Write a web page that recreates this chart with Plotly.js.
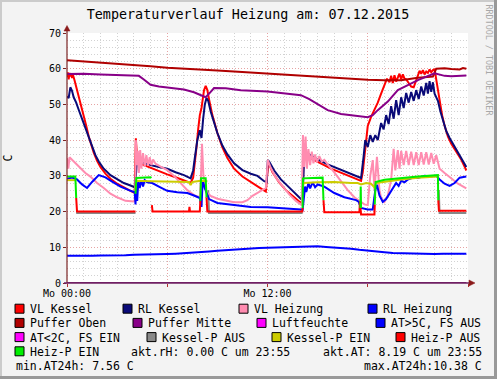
<!DOCTYPE html>
<html><head><meta charset="utf-8">
<script src="https://cdn.plot.ly/plotly-3.0.1.min.js"></script>
<style>html,body{margin:0;padding:0;background:#f3f3f3;}#chart{width:497px;height:379px;}</style>
</head><body><div id="chart"></div>
<script>
// ---------------- data (time in hours since Mo 00:00, value in C) ----------------
const chartTitle = 'Temperaturverlauf Heizung am: 07.12.2015';
const yAxisLabel = 'C';
const xTickVals = [0, 6, 12, 18, 24];
const xTickText = ['Mo 00:00', '', 'Mo 12:00', '', ''];
const yTickVals = [0, 10, 20, 30, 40, 50, 60, 70];

const seriesNames = ['VL Kessel','RL Kessel','VL Heizung','RL Heizung','Puffer Oben','Puffer Mitte','Luftfeuchte','AT>5C, FS AUS','AT<2C, FS EIN','Kessel-P AUS','Kessel-P EIN','Heiz-P AUS','Heiz-P EIN'];
const seriesColors = ['#ff0000','#0a0a78','#ff8cb0','#0000ff','#b00000','#880088','#ff00ff','#0000ff','#ff00ff','#888888','#cccc00','#ff0000','#00ee00'];
const statText = ['akt.rH: 0.00 C um 23:55','akt.AT: 8.19 C um 23:55','min.AT24h: 7.56 C','max.AT24h:10.38 C'];

const vlKessel = [[0,57.6],[0.05,59.0],[0.1,57.0],[0.15,58.8],[0.2,57.8],[0.25,58.6],[0.3,57.4],[0.35,58.4],[0.45,56.8],[0.55,55.0],[0.7,52.5],[0.85,50.0],[1.0,47.0],[1.15,44.0],[1.3,41.0],[1.45,38.5],[1.6,36.5],[1.8,34.2],[2.0,32.5],[2.3,30.6],[2.6,29.2],[3.0,27.8],[3.4,26.7],[3.8,25.8],[4.05,25.2],[4.12,40.5],[4.18,36.0],[4.3,34.0],[4.5,33.2],[4.8,32.6],[5.2,31.8],[5.6,31.0],[6.0,30.4],[6.5,29.6],[7.0,28.8],[7.4,28.0],[7.55,29.5],[7.65,33.0],[7.75,38.0],[7.85,43.0],[7.95,47.0],[8.05,49.0],[8.12,52.0],[8.2,54.0],[8.3,55.2],[8.4,54.0],[8.5,51.5],[8.7,47.0],[9.0,42.0],[9.3,38.0],[9.6,35.0],[10.0,32.0],[10.5,29.8],[11.0,28.2],[11.5,26.8],[11.9,25.6],[12.0,31.5],[12.05,33.8],[12.3,31.0],[12.7,28.2],[13.1,26.0],[13.5,24.3],[13.9,22.8],[14.1,22.4],[14.15,34.5],[14.3,35.6],[14.8,34.5],[15.3,33.2],[15.8,32.0],[16.3,31.0],[16.8,30.0],[17.3,29.2],[17.6,28.6],[17.7,31.0],[17.8,36.0],[17.9,41.0],[18.0,44.0],[18.2,46.5],[18.4,48.5],[18.6,50.5],[18.8,53.0],[19.0,55.5],[19.15,57.2],[19.3,56.2],[19.4,58.0],[19.5,56.0],[19.6,58.2],[19.7,56.4],[19.8,57.6],[19.9,58.6],[20.0,57.0],[20.1,58.4],[20.2,57.2],[20.3,57.0],[20.45,56.0],[20.6,55.0],[20.75,54.8],[20.9,57.0],[21.0,58.6],[21.1,59.4],[21.2,58.6],[21.3,59.6],[21.4,58.4],[21.5,59.2],[21.6,58.8],[21.7,59.8],[21.8,59.0],[21.9,59.6],[22.0,59.8],[22.1,57.0],[22.2,53.0],[22.3,50.5],[22.45,47.0],[22.6,44.0],[22.8,41.0],[23.0,39.0],[23.2,37.5],[23.4,36.0],[23.6,34.5],[23.8,32.5],[23.9,31.5]];

const rlKessel = [[0,52.2],[0.1,51.8],[0.2,54.8],[0.3,53.8],[0.4,52.0],[0.55,50.5],[0.7,48.5],[0.9,46.0],[1.1,43.5],[1.3,40.5],[1.5,38.0],[1.7,35.8],[1.9,34.0],[2.2,32.0],[2.6,30.2],[3.0,29.0],[3.4,28.0],[3.8,27.3],[4.05,26.8],[4.12,30.0],[4.2,34.8],[4.4,34.0],[4.7,33.5],[5.0,33.0],[5.5,32.5],[6.0,32.0],[6.5,31.0],[7.0,30.2],[7.4,29.3],[7.55,31.5],[7.65,35.0],[7.8,40.0],[7.95,42.8],[8.05,40.6],[8.15,46.0],[8.25,50.0],[8.35,51.8],[8.45,51.0],[8.6,48.0],[8.8,45.0],[9.0,42.0],[9.3,38.5],[9.6,36.0],[10.0,33.5],[10.5,31.6],[11.0,30.6],[11.4,30.0],[11.8,28.5],[11.95,28.3],[12.02,34.4],[12.1,34.0],[12.4,31.5],[12.8,29.0],[13.2,27.2],[13.6,25.2],[14.0,23.5],[14.1,23.2],[14.2,36.4],[14.5,36.0],[15.0,34.6],[15.6,33.2],[16.2,32.0],[16.8,30.8],[17.3,30.0],[17.6,29.4],[17.75,35.3],[17.85,40.0],[18.0,38.1],[18.15,41.4],[18.3,39.5],[18.45,41.4],[18.6,40.0],[18.8,44.8],[18.95,43.0],[19.1,47.0],[19.25,44.5],[19.4,49.5],[19.55,46.0],[19.7,51.2],[19.85,47.0],[20.0,52.0],[20.15,49.0],[20.3,53.2],[20.45,50.5],[20.6,53.5],[20.75,51.0],[20.9,54.0],[21.05,51.5],[21.2,55.0],[21.35,52.5],[21.5,56.0],[21.6,53.0],[21.7,56.5],[21.8,53.5],[21.9,56.2],[22.0,53.0],[22.1,52.0],[22.2,51.0],[22.35,48.0],[22.5,45.5],[22.7,42.5],[22.9,40.6],[23.1,39.0],[23.3,37.5],[23.5,36.0],[23.7,34.5],[23.9,32.5]];

const vlHeizung = [[0,35.0],[0.08,32.0],[0.15,35.2],[0.3,34.5],[0.5,33.6],[0.8,32.0],[1.1,30.8],[1.4,29.8],[1.8,28.0],[2.2,26.6],[2.6,25.0],[3.0,24.0],[3.5,23.0],[4.0,22.8],[4.08,23.5],[4.12,40.0],[4.18,33.0],[4.24,37.0],[4.3,30.8],[4.38,37.2],[4.45,32.0],[4.55,36.4],[4.65,32.5],[4.75,35.8],[4.85,32.8],[4.95,35.2],[5.05,33.0],[5.15,34.6],[5.3,33.4],[5.6,32.6],[6.0,31.6],[6.4,30.0],[6.8,28.0],[7.2,26.0],[7.6,24.6],[7.95,24.0],[8.02,30.0],[8.08,39.0],[8.16,30.5],[8.25,27.0],[8.35,25.5],[8.6,24.4],[9.0,23.6],[9.5,23.0],[10.0,22.6],[10.5,22.6],[10.8,23.2],[11.1,24.4],[11.5,25.5],[11.9,26.6],[12.02,34.4],[12.2,32.2],[12.5,29.5],[12.9,27.0],[13.3,24.8],[13.7,23.0],[14.05,21.8],[14.12,41.4],[14.2,32.5],[14.28,41.0],[14.36,32.0],[14.45,37.5],[14.55,33.0],[14.65,36.8],[14.75,33.5],[14.85,36.0],[14.95,33.8],[15.1,35.5],[15.25,34.0],[15.4,34.5],[15.6,33.2],[16.0,31.0],[16.4,28.4],[16.8,26.0],[17.2,24.0],[17.5,23.0],[17.8,22.0],[18.0,21.8],[18.15,30.0],[18.3,34.4],[18.4,26.0],[18.55,35.3],[18.7,26.0],[18.8,23.8],[19.0,22.7],[19.2,24.5],[19.4,28.8],[19.55,37.6],[19.65,31.5],[19.8,37.2],[19.9,32.0],[20.0,37.0],[20.15,33.0],[20.3,37.0],[20.45,33.0],[20.6,36.8],[20.75,33.0],[20.9,36.6],[21.05,33.0],[21.2,36.6],[21.35,33.2],[21.5,36.6],[21.65,33.2],[21.8,36.4],[21.95,33.4],[22.1,35.8],[22.3,32.0],[22.6,30.8],[23.0,29.2],[23.4,27.8],[23.9,26.5]];

const rlHeizung = [[0,29.2],[0.3,29.5],[0.6,29.0],[0.9,27.6],[1.2,26.6],[1.5,28.3],[1.9,30.2],[2.3,29.6],[2.7,28.4],[3.2,27.0],[3.7,26.0],[4.05,25.4],[4.1,22.0],[4.15,28.2],[4.2,23.0],[4.27,28.6],[4.35,26.6],[4.45,28.8],[4.55,27.0],[4.65,28.8],[4.8,28.2],[5.1,28.0],[5.5,27.0],[6.0,25.8],[6.6,25.4],[7.2,25.2],[7.6,24.5],[7.95,23.8],[8.05,21.3],[8.12,28.8],[8.25,26.5],[8.5,23.5],[9.0,22.4],[10.0,21.8],[11.0,21.3],[12.0,21.2],[13.0,21.0],[14.0,20.6],[14.1,20.4],[14.18,24.2],[14.25,27.0],[14.32,25.5],[14.45,28.0],[14.55,26.5],[14.7,28.2],[14.85,26.8],[15.0,27.6],[15.4,27.0],[16.0,25.2],[16.6,24.0],[17.3,23.2],[17.45,22.8],[17.6,21.0],[18.0,20.6],[18.3,20.6],[18.45,26.0],[18.55,27.5],[18.7,24.5],[18.9,22.7],[19.1,23.5],[19.3,25.0],[19.5,26.5],[19.7,28.0],[19.85,27.2],[20.0,28.6],[20.2,28.2],[20.4,29.0],[20.6,29.3],[20.8,29.6],[21.0,29.4],[21.4,30.0],[21.8,29.8],[22.1,30.0],[22.3,29.0],[22.6,27.8],[22.9,27.2],[23.2,28.0],[23.5,29.5],[23.9,29.8]];

const pufferOben = [[0,62.4],[1,62.1],[2,61.8],[3,61.4],[4,61.1],[5,60.7],[6,60.3],[7,60.1],[8,59.8],[9,59.5],[10,59.2],[11,58.9],[12,58.7],[13,58.4],[14,58.2],[15,57.9],[16,57.6],[17,57.2],[18,56.9],[19,56.8],[20,56.8],[21,57.5],[21.9,57.8],[22.1,60.0],[22.6,60.1],[23,59.9],[23.5,59.8],[23.7,60.2],[23.9,60.0]];

const pufferMitte = [[0,58.5],[1,58.6],[2,58.4],[3,58.3],[4,58.2],[4.3,58.0],[4.6,57.0],[5.0,55.5],[5.5,55.0],[6.0,54.7],[7.0,54.2],[7.6,53.4],[8.0,52.5],[8.3,52.0],[8.6,53.5],[8.8,54.6],[9.5,54.5],[10.4,54.0],[12.0,53.6],[13.0,53.2],[14.0,52.6],[14.5,51.5],[15.0,50.0],[15.6,48.4],[16.4,47.3],[17.0,46.9],[18.0,46.4],[18.3,47.0],[18.6,48.4],[19.2,50.8],[19.8,54.0],[20.4,55.4],[21.0,56.8],[22.0,58.7],[22.6,58.0],[23.0,57.9],[23.9,58.1]];

const luftfeuchte = [[0,0],[23.9,0]];

const atAbove5 = [[0,7.6],[0.5,7.56],[1,7.7],[1.5,7.6],[2,7.7],[2.5,7.65],[3,7.8],[3.5,7.75],[4,7.9],[4.5,7.9],[5,8.0],[5.5,8.0],[6,8.1],[6.5,8.2],[7,8.3],[7.5,8.5],[8,8.6],[8.5,8.8],[9,9.0],[9.5,9.2],[10,9.3],[10.5,9.5],[11,9.6],[11.5,9.8],[12,9.9],[12.5,10.0],[13,10.1],[13.5,10.2],[14,10.3],[14.5,10.38],[15,10.3],[15.5,10.1],[16,10.0],[16.5,9.8],[17,9.6],[17.5,9.3],[18,9.0],[18.5,8.8],[19,8.6],[19.5,8.4],[20,8.3],[20.5,8.2],[21,8.2],[21.5,8.1],[22,8.1],[22.5,8.2],[23,8.1],[23.5,8.2],[23.9,8.19]];

const atBelow2 = [];

const kesselPAus = [[0.55,19.6],[4.1,19.6],[4.1,null],[8.45,26.0],[8.5,19.6],[14.1,19.6],[14.1,null],[22.25,26.0],[22.3,19.6],[23.9,19.6]];

const kesselPEin = [[0,28.8],[0.5,28.8],[0.5,null],[4.1,26.5],[4.15,28.6],[5,28.5],[6,28.4],[7,28.5],[7.3,28.3],[7.4,27.4],[7.5,28.3],[8.0,28.6],[8.4,28.5],[8.4,null],[14.1,26.5],[14.15,28.0],[15,28.2],[16,28.3],[17,28.0],[17.4,28.0],[17.6,27.6],[17.9,28.0],[18.2,27.8],[18.35,27.0],[18.4,26.8],[18.5,28.0],[19,28.4],[20,29.0],[21,29.5],[22.2,29.8]];

const heizPAus = [[0.55,23.8],[0.6,20.0],[4.1,20.0],[4.1,null],[5.08,21.8],[5.12,20.0],[7.3,20.0],[7.33,21.3],[7.36,20.0],[7.95,20.0],[7.98,23.0],[7.98,null],[8.35,24.0],[8.4,20.0],[14.08,20.0],[14.1,21.0],[14.1,null],[15.35,23.2],[15.4,19.8],[17.5,19.8],[17.53,22.8],[17.6,19.2],[18.4,19.2],[18.42,22.0],[18.42,null],[22.22,23.2],[22.26,20.2],[23.9,20.2]];

const heizPEin = [[0,29.8],[0.5,29.8],[0.55,23.8],[0.55,null],[4.1,25.0],[4.15,29.4],[5.0,29.6],[5.05,29.4],[5.05,null],[7.98,23.0],[8.02,29.3],[8.3,29.3],[8.35,24.0],[8.35,null],[14.1,21.0],[14.12,29.3],[15.3,29.5],[15.35,23.2],[15.35,null],[17.56,21.0],[17.58,27.0],[17.6,21.0],[17.6,null],[18.42,22.0],[18.47,28.3],[19,28.9],[20,29.4],[21,29.8],[22.2,30.2],[22.22,23.2]];

const seriesData = [vlKessel, rlKessel, vlHeizung, rlHeizung, pufferOben, pufferMitte, luftfeuchte, atAbove5, atBelow2, kesselPAus, kesselPEin, heizPAus, heizPEin];

// ---------------- layout geometry ----------------
const L = 67, R = 468, T = 33, B = 283, W = 497, H = 379;
const fx = x => (x - L) / (R - L);
const fy = y => (B - y) / (B - T);
const FONT = 'DejaVu Sans Mono';

const drawOrder = [9, 0, 1, 2, 3, 4, 5, 6, 7, 8, 10, 11, 12];
const traces = drawOrder.map(i => ({
  type: 'scatter', mode: 'lines', name: seriesNames[i],
  x: seriesData[i].map(p => p[0]), y: seriesData[i].map(p => p[1]),
  line: {color: i === 6 ? '#7a2070' : seriesColors[i], width: 2},
  connectgaps: false, hoverinfo: 'skip', showlegend: false
}));

const shapes = [];
const annotations = [];

// borders
shapes.push({type:'rect', xref:'paper', yref:'paper', x0:fx(0), x1:fx(2), y0:fy(0), y1:fy(H), fillcolor:'#cbcbcb', line:{width:0}});
shapes.push({type:'rect', xref:'paper', yref:'paper', x0:fx(0), x1:fx(W), y0:fy(0), y1:fy(2), fillcolor:'#cbcbcb', line:{width:0}});
shapes.push({type:'rect', xref:'paper', yref:'paper', x0:fx(494), x1:fx(W), y0:fy(0), y1:fy(H), fillcolor:'#999999', line:{width:0}});
shapes.push({type:'rect', xref:'paper', yref:'paper', x0:fx(0), x1:fx(W), y0:fy(376), y1:fy(H), fillcolor:'#999999', line:{width:0}});

// axes with arrows
shapes.push({type:'line', xref:'paper', yref:'paper', x0:fx(67), x1:fx(67), y0:fy(283.5), y1:fy(30), line:{color:'#7b2323', width:1.2}});
shapes.push({type:'line', xref:'paper', yref:'paper', x0:fx(64), x1:fx(470), y0:fy(283), y1:fy(283), line:{color:'#6e1f60', width:1.5}});
shapes.push({type:'path', xref:'paper', yref:'paper', path:`M ${fx(64)} ${fy(31)} L ${fx(70)} ${fy(31)} L ${fx(67)} ${fy(25.5)} Z`, fillcolor:'#8b1a1a', line:{color:'#8b1a1a', width:0.5}});
shapes.push({type:'path', xref:'paper', yref:'paper', path:`M ${fx(469)} ${fy(280)} L ${fx(469)} ${fy(286)} L ${fx(475)} ${fy(283)} Z`, fillcolor:'#8b1a1a', line:{color:'#8b1a1a', width:0.5}});

// legend
const legRowY = [309.2, 323.4, 337.6, 351.8];
const legBoxX = [15, 123, 239, 368, 15, 133, 257, 376, 15, 147, 272, 396, 15];
const legRow = [0,0,0,0,1,1,1,1,2,2,2,2,3];
const BOX = 9;
for (let i = 0; i < seriesNames.length; i++) {
  const cy = legRowY[legRow[i]] - 0.5, bx = legBoxX[i];
  shapes.push({type:'rect', xref:'paper', yref:'paper', x0:fx(bx), x1:fx(bx+BOX), y0:fy(cy-BOX/2), y1:fy(cy+BOX/2), fillcolor:seriesColors[i], line:{color:'#000000', width:1}});
  annotations.push({xref:'paper', yref:'paper', x:fx(bx+15.3), y:fy(legRowY[legRow[i]]), xanchor:'left', yanchor:'middle', text:seriesNames[i], showarrow:false, borderpad:0, borderwidth:0, font:{family:FONT, size:11.5, color:'#000'}});
}
annotations.push({xref:'paper', yref:'paper', x:fx(130.5), y:fy(legRowY[3]), xanchor:'left', yanchor:'middle', text:statText[0], showarrow:false, borderpad:0, borderwidth:0, font:{family:FONT, size:11.5, color:'#000'}});
annotations.push({xref:'paper', yref:'paper', x:fx(482), y:fy(legRowY[3]), xanchor:'right', yanchor:'middle', text:statText[1], showarrow:false, borderpad:0, borderwidth:0, font:{family:FONT, size:11.5, color:'#000'}});
annotations.push({xref:'paper', yref:'paper', x:fx(16), y:fy(366), xanchor:'left', yanchor:'middle', text:statText[2], showarrow:false, borderpad:0, borderwidth:0, font:{family:FONT, size:11.5, color:'#000'}});
annotations.push({xref:'paper', yref:'paper', x:fx(482), y:fy(366), xanchor:'right', yanchor:'middle', text:statText[3], showarrow:false, borderpad:0, borderwidth:0, font:{family:FONT, size:11.5, color:'#000'}});

// watermark
annotations.push({xref:'paper', yref:'paper', x:fx(489), y:fy(60.5), xanchor:'center', yanchor:'middle', text:'RRDTOOL / TOBI OETIKER', textangle:90, showarrow:false, borderpad:0, borderwidth:0, font:{family:FONT, size:8.4, color:'#a8a8a8'}});

const gridMajor = '#e6a3a3', gridMinor = '#d2d2d2', dots = '1px,2px';

const layout = {
  width: W, height: H,
  paper_bgcolor: '#f3f3f3', plot_bgcolor: '#ffffff',
  margin: {l: L, r: W - R, t: T, b: H - B, pad: 0},
  showlegend: false,
  font: {family: FONT, color: '#000'},
  title: {text: chartTitle, font: {family: FONT, size: 13.4, color: '#000'}, xref: 'container', yref: 'container', x: 248/W, y: 1 - 14.5/H, xanchor: 'center', yanchor: 'middle'},
  xaxis: {range: [0, 24], tickmode: 'array', tickvals: xTickVals, ticktext: xTickText,
    showgrid: true, gridcolor: gridMajor, griddash: dots, gridwidth: 1,
    minor: {dtick: 1, tick0: 0, showgrid: true, gridcolor: gridMinor, griddash: dots, gridwidth: 1},
    ticks: 'outside', ticklen: 3, tickcolor: '#b03030', tickwidth: 1, ticklabelstandoff: -2,
    tickfont: {family: FONT, size: 10, color: '#000'},
    zeroline: false, showline: false, fixedrange: true, automargin: false},
  yaxis: {range: [0, 70], tickmode: 'array', tickvals: yTickVals,
    showgrid: true, gridcolor: gridMajor, griddash: dots, gridwidth: 1,
    minor: {dtick: 2, tick0: 0, showgrid: true, gridcolor: gridMinor, griddash: dots, gridwidth: 1},
    ticks: 'outside', ticklen: 3, tickcolor: '#7b2323', tickwidth: 1,
    tickfont: {family: FONT, size: 10, color: '#000'},
    title: {text: yAxisLabel, font: {family: FONT, size: 11.5, color: '#000'}, standoff: 33},
    zeroline: false, showline: false, fixedrange: true, automargin: false},
  shapes: shapes,
  annotations: annotations
};

Plotly.newPlot('chart', traces, layout, {staticPlot: true, displayModeBar: false});
</script>
</body></html>
